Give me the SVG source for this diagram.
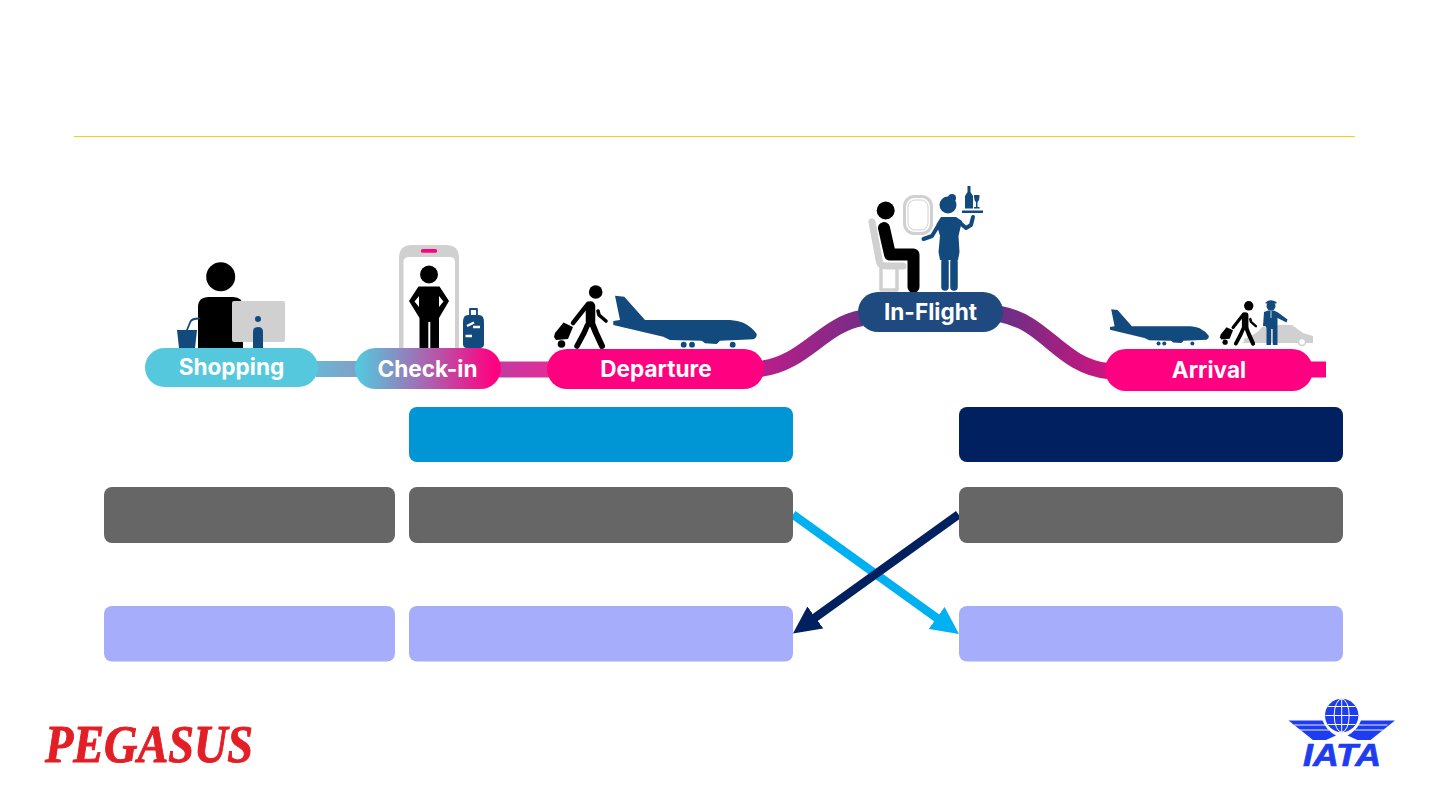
<svg xmlns="http://www.w3.org/2000/svg" width="1440" height="810" viewBox="0 0 1440 810">
<style>
.lbl{font-family:"Inter","Liberation Sans",sans-serif;font-weight:700;font-size:22.6px;fill:#fff;text-anchor:middle}
.blue{fill:#134a7e}.blk{fill:#000}.gry{fill:#d0d0d0}
.bk{stroke:#000;fill:none;stroke-linecap:round;stroke-linejoin:round}
.bl{stroke:#134a7e;fill:none;stroke-linecap:round;stroke-linejoin:round}
.gs{stroke:#d0d0d0;fill:none;stroke-linejoin:round}
.pipe{fill:none;stroke-width:16}
.gray{fill:#666}.lav{fill:#a6aefc}
</style>
<defs>
<linearGradient id="gCheck" gradientUnits="userSpaceOnUse" x1="358" y1="0" x2="495" y2="0"><stop offset="0" stop-color="#55c8de"/><stop offset="1" stop-color="#ff0080"/></linearGradient>
<linearGradient id="gA" gradientUnits="userSpaceOnUse" x1="318" y1="0" x2="355" y2="0"><stop offset="0" stop-color="#6cb4d3"/><stop offset="1" stop-color="#7fa2c8"/></linearGradient>
<linearGradient id="gB" gradientUnits="userSpaceOnUse" x1="501" y1="0" x2="547" y2="0"><stop offset="0" stop-color="#c43aa0"/><stop offset="1" stop-color="#e02e98"/></linearGradient>
<linearGradient id="gC" gradientUnits="userSpaceOnUse" x1="764" y1="0" x2="858" y2="0"><stop offset="0" stop-color="#b81e8a"/><stop offset="1" stop-color="#7a2c85"/></linearGradient>
<linearGradient id="gD" gradientUnits="userSpaceOnUse" x1="1003" y1="0" x2="1105" y2="0"><stop offset="0" stop-color="#6a3085"/><stop offset="1" stop-color="#cb1580"/></linearGradient>
<marker id="hCyan" markerUnits="userSpaceOnUse" markerWidth="28" markerHeight="28" refX="1" refY="14" orient="auto"><path d="M0,0.5 L27.500,14 L0,27.500Z" fill="#00b0f0"/></marker>
<marker id="hNavy" markerUnits="userSpaceOnUse" markerWidth="28" markerHeight="28" refX="1" refY="14" orient="auto"><path d="M0,0.5 L27.500,14 L0,27.500Z" fill="#012060"/></marker>
<g id="plane">
<path class="blue" d="M615,295.700 L624.300,296.700 L645,320 L730,320 Q738,320.500 743.300,322.700 Q752,327 756.700,334 Q757,338 753.300,339.300 L720,340.700 L716.700,344 L705,343.300 L701.700,340.700 L670,340 L663.300,336.700 L613.300,325 L613.300,321 L620,320Z"/>
<circle class="blue" cx="683.700" cy="344.700" r="2.900"/><circle class="blue" cx="692" cy="344.700" r="2.900"/><circle class="blue" cx="732.700" cy="344.700" r="2.900"/>
</g>
<g id="walker">
<circle class="blk" cx="595.700" cy="292" r="6.800"/>
<path class="bk" stroke-width="9.500" d="M590.500,306 L590.500,322"/>
<path class="bk" stroke-width="5.500" d="M587.500,325 L584,333 L577,346"/>
<path class="bk" stroke-width="6" d="M591.500,322 L596,333 L602,346"/>
<path class="bk" stroke-width="4.500" d="M588,304 L573,323"/>
<path class="bk" stroke-width="3.600" d="M598,311 L599,315 L606,321"/>
<path class="blk" d="M555,333 L563.500,322.500 L573,327 L568,339 L556,340 L554,337Z"/>
<circle class="blk" cx="561.500" cy="344" r="3.800"/>
</g>
</defs>
<rect width="1440" height="810" fill="#fff"/>
<line x1="74" y1="136.500" x2="1355" y2="136.500" stroke="#f5d010" stroke-width="1"/>

<g id="connectors">
<path class="pipe" stroke="url(#gA)" d="M316,369 H357"/>
<path class="pipe" stroke="url(#gB)" d="M499,369.500 H549"/>
<path class="pipe" stroke="url(#gC)" d="M760,369 C806,363 822,325 862,318"/>
<path class="pipe" stroke="url(#gD)" d="M1000,314 C1046,322 1060,366 1108,371"/>
<path class="pipe" stroke="#ff0080" d="M1310,369.500 H1326"/>
<line x1="793" y1="514.500" x2="937.500" y2="618.500" stroke="#00b0f0" stroke-width="8.500" marker-end="url(#hCyan)"/>
<line x1="958.500" y1="514.500" x2="814.500" y2="618" stroke="#012060" stroke-width="8.500" marker-end="url(#hNavy)"/>
</g>

<g id="shopping-icon">
<circle class="blk" cx="220.700" cy="276.700" r="14.500"/>
<path class="blk" d="M198,348 V307 Q198,297 209,297 H233 Q243,297 243,307 V348Z"/>
<rect class="gry" x="232" y="301" width="53" height="41" rx="2"/>
<circle class="blue" cx="258" cy="319" r="3"/>
<path class="blue" d="M253,348 V332 Q253,327 258,327 Q263,327 263,332 V348Z"/>
<path class="blue" d="M177,330 H197 L195,348 H179Z"/>
<path class="bl" stroke-width="1.800" d="M187,330 L190.500,321.500 Q192,318.500 199,318.500"/>
</g>
<g id="checkin-icon">
<path class="gry" d="M399,348 V258 Q399,245 412,245 H446 Q459,245 459,258 V348Z"/>
<path fill="#fff" d="M403.500,348 V262 Q403.500,257 409,257 H449.500 Q455,257 455,262 V348Z"/>
<rect x="421" y="249" width="16" height="3.800" rx="1.500" fill="#ff0080"/>
<circle class="blk" cx="429" cy="274.500" r="9"/>
<path class="blk" d="M418.500,286.500 H439.500 L449,301 L439,318 V348 H430.300 V322 H428.300 V348 H419.500 V318 L409,301Z"/>
<path fill="#fff" d="M419,296 L414.500,301.500 L419,307Z M439,296 L443.500,301.500 L439,307Z"/>
<path class="blue" d="M463,322 Q463,315 468,315 H479 Q484,315 484,322 V344 Q484,348 480,348 H467 Q463,348 463,344Z"/>
<path class="bl" stroke-width="1.800" d="M470,316 V309 H477 V316"/>
<path d="M467,326 L474,322.500 M473,327 H480 M465.500,336 H472" stroke="#fff" stroke-width="2.500" fill="none"/>
</g>
<g id="departure-icon">
<use href="#walker"/>
<use href="#plane"/>
</g>
<g id="inflight-icon">
<path class="gs" stroke-width="7" stroke-linecap="round" d="M872,222 L879.500,262 Q880.500,266 886,266 H903"/>
<path class="gs" stroke-width="3.500" d="M881,268 V290 H897 V268"/>
<path class="bk" stroke-width="12" d="M884,228 L890,254.500 H913.500 V287"/>
<circle class="blk" cx="885.700" cy="210.500" r="9"/>
<rect x="904.500" y="196.500" width="27" height="37" rx="10" fill="#fff" stroke="#d0d0d0" stroke-width="3"/>
<rect x="908" y="200" width="20" height="30" rx="7" fill="none" stroke="#d0d0d0" stroke-width="1"/>
<circle class="blue" cx="948" cy="205" r="8.500"/><circle class="blue" cx="952" cy="198" r="4"/>
<path class="blue" d="M941,217 H956 L962,221 L958.500,236 L959.500,252 L958,260 H940 L938.500,252 L940,236 L936.500,224Z"/>
<path class="bl" stroke-width="7.500" stroke-linecap="round" d="M945,262 V287 M954,262 V287"/>
<path class="bl" stroke-width="4" d="M938,226 L932,236 L923.500,239"/>
<path class="bl" stroke-width="4" d="M959,222 L966,228 L971,225 L973,217"/>
<rect class="blue" x="962" y="210.500" width="21" height="2.500"/>
<path class="blue" d="M965,208.500 V196 L967.500,192 V186 H970.500 V192 L973,196 V208.500Z"/>
<path class="blue" d="M974,195 H979.500 Q979.500,201 977.500,202 V207 H979.500 V208.500 H974 V207 H976 V202 Q974,201 974,195Z"/>
</g>
<g id="arrival-icon">
<path class="gry" d="M1243,345 L1244,339 Q1256,335 1262,327 Q1275,324 1292,325 L1303,333 L1313,336 V343 H1243Z"/>
<circle cx="1302" cy="342" r="3.500" fill="#fff" stroke="#d0d0d0" stroke-width="1.500"/>
<g transform="translate(686.800 102.300) scale(0.690 0.700)"><use href="#plane"/></g>
<g transform="translate(837.700 101.400) scale(0.690 0.700)"><use href="#walker"/></g>
<circle class="blue" cx="1271" cy="306" r="4.500"/>
<path class="blue" d="M1265.500,302.500 Q1270,298.500 1276.500,302 V303.500 H1265.500Z"/>
<path class="blue" d="M1264,312 L1268,310.500 H1274 L1278,312.500 L1287.500,319.500 L1286.500,322.500 L1277.500,318 V345 H1272.800 V329 H1271 V345 H1266.500 V328 L1265.500,326 L1263,326Z"/>
<path d="M1271,311 V318" stroke="#fff" stroke-width=".8"/>
</g>

<g id="node-shopping"><rect x="145" y="348" width="173" height="39" rx="19.500" fill="#55c8de"/><text class="lbl" x="231.500" y="375">Shopping</text></g>
<g id="node-checkin"><rect x="355" y="348" width="146" height="41" rx="20.500" fill="url(#gCheck)"/><text class="lbl" x="427.500" y="376.500">Check-in</text></g>
<g id="node-departure"><rect x="547" y="349" width="217" height="40" rx="20" fill="#ff0080"/><text class="lbl" x="656" y="377">Departure</text></g>
<g id="node-inflight"><rect x="858" y="292" width="145" height="40" rx="20" fill="#1f4a80"/><text class="lbl" x="930.500" y="320">In-Flight</text></g>
<g id="node-arrival"><rect x="1105" y="349" width="208" height="42" rx="21" fill="#ff0080"/><text class="lbl" x="1209" y="377.500">Arrival</text></g>

<g id="box-row1">
<rect x="409" y="407" width="384" height="55" rx="8" fill="#0095d5"/>
<rect x="959" y="407" width="384" height="55" rx="8" fill="#012060"/>
</g>
<g id="box-row2">
<rect class="gray" x="104" y="487" width="291" height="56" rx="8"/>
<rect class="gray" x="409" y="487" width="384" height="56" rx="8"/>
<rect class="gray" x="959" y="487" width="384" height="56" rx="8"/>
</g>
<g id="box-row3">
<rect class="lav" x="104" y="606" width="291" height="55.500" rx="8"/>
<rect class="lav" x="409" y="606" width="384" height="55.500" rx="8"/>
<rect class="lav" x="959" y="606" width="384" height="55.500" rx="8"/>
</g>

<g id="logo-pegasus"><text x="45" y="761.500" font-family="'Liberation Serif',serif" font-weight="700" font-style="italic" font-size="52" textLength="208" lengthAdjust="spacingAndGlyphs" fill="#e21f26" stroke="#e21f26" stroke-width="1">PEGASUS</text></g>
<g id="logo-iata">
<circle cx="1341.700" cy="715.500" r="16.700" fill="#1f3df0"/>
<g fill="none" stroke="#fff" stroke-width="1">
<ellipse cx="1341.700" cy="715.500" rx="7.500" ry="16.700"/><path d="M1341.700,699 V732 M1325.500,715.500 H1358 M1328,706.500 H1355.500 M1328,724.500 H1355.500"/>
</g>
<path fill="#1f3df0" d="M1288.500,720.500 H1322.500 Q1326,730 1336,735.500 L1326,740 H1313Z"/>
<path fill="#1f3df0" d="M1395,720.500 H1361 Q1357.500,730 1347.500,735.500 L1357.500,740 H1370.500Z"/>
<path d="M1294,725 H1325 M1300,730 H1329 M1387.500,725 H1358.500 M1383.500,730 H1354.500" stroke="#fff" stroke-width=".9" fill="none"/>
<text x="1303" y="766" font-family="'Liberation Sans',sans-serif" font-weight="700" font-style="italic" font-size="31" textLength="78" lengthAdjust="spacingAndGlyphs" fill="#1f3df0" stroke="#1f3df0" stroke-width=".7">IATA</text>
</g>
</svg>
